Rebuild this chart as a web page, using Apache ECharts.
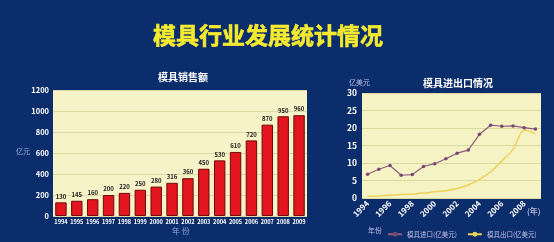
<!DOCTYPE html>
<html><head><meta charset="utf-8">
<script src="https://cdn.jsdelivr.net/npm/echarts@6/dist/echarts.min.js"></script>
<style>html,body{margin:0;padding:0;background:#0c2d6b;}#c{width:554px;height:242px;}</style>
</head><body><div id="c"></div>
<script>
var salesYears = ['1994','1995','1996','1997','1998','1999','2000','2001','2002','2003','2004','2005','2006','2007','2008','2009'];
var salesValues = [130,145,160,200,220,250,280,316,360,450,530,610,720,870,950,960];
var tradeYears = ['1994','1995','1996','1997','1998','1999','2000','2001','2002','2003','2004','2005','2006','2007','2008','2009'];
var importValues = [6.8,8.2,9.3,6.5,6.7,9.0,9.8,11.2,12.8,13.7,18.2,20.8,20.5,20.6,20.1,19.7];
var exportValues = [0.5,0.6,0.8,1.0,1.1,1.4,1.8,2.1,2.7,3.7,5.3,7.5,10.6,13.9,19.4,18.4];
var salesTicks = [0,200,400,600,800,1000,1200];
var tradeTicks = [0,5,10,15,20,25,30];

var chart = echarts.init(document.getElementById('c'));
var font = '"Noto Sans CJK SC", "DejaVu Sans", sans-serif';
chart.setOption({
  backgroundColor: '#0c2d6b',
  animation: false,
  textStyle: {fontFamily: font},
  title: [
    {text: '模具行业发展统计情况', left: 263, top: 19, textAlign: 'center',
     textStyle: {color: '#f4ea30', fontSize: 23, fontWeight: 'bold', fontFamily: font,
                 textBorderColor: '#f4ea30', textBorderWidth: 0.6}},
    {text: '模具销售额', left: 178, top: 67, textAlign: 'center',
     textStyle: {color: '#ffffff', fontSize: 10, fontWeight: 'bold', fontFamily: font}},
    {text: '模具进出口情况', left: 453, top: 73, textAlign: 'center',
     textStyle: {color: '#ffffff', fontSize: 10, fontWeight: 'bold', fontFamily: font}}
  ],
  legend: {
    data: ['模具进口(亿美元)', '模具出口(亿美元)'],
    left: 382, top: 226, width: 200, itemWidth: 14, itemHeight: 6, itemGap: 10,
    textStyle: {color: '#c3bfe6', fontSize: 6.5, fontFamily: font}
  },
  graphic: [
    {type: 'text', left: 16, top: 148, style: {text: '亿元', fill: '#9fb0dc', font: '7px ' + font}},
    {type: 'text', left: 172, top: 227, style: {text: '年 份', fill: '#8ea3d8', font: '8px ' + font}},
    {type: 'text', left: 349, top: 79, style: {text: '亿美元', fill: '#b7c0e6', font: '7px ' + font}},
    {type: 'text', left: 527, top: 207, style: {text: '(年)', fill: '#dfe3f5', font: '8px ' + font}},
    {type: 'text', left: 368, top: 227, style: {text: '年份', fill: '#c3bfe6', font: '7px ' + font}}
  ],
  grid: [
    {left: 53, top: 90, width: 254, height: 126, show: true, backgroundColor: '#f6f3c8', borderColor: '#0c2d6b', borderWidth: 0},
    {left: 362, top: 93, width: 179, height: 105, show: true, backgroundColor: '#f5f2c4', borderColor: '#0c2d6b', borderWidth: 0}
  ],
  xAxis: [
    {type: 'category', gridIndex: 0, data: salesYears,
     axisLine: {show: false}, axisTick: {show: false},
     axisLabel: {interval: 0, color: '#ffffff', fontSize: 5.6, fontWeight: 'bold', margin: 3}},
    {type: 'category', gridIndex: 1, data: tradeYears, boundaryGap: true,
     axisLine: {show: false}, axisTick: {show: false},
     axisLabel: {interval: 1, rotate: 45, color: '#ffffff', fontSize: 8, fontWeight: 'bold', margin: 4}}
  ],
  yAxis: [
    {type: 'value', gridIndex: 0, min: 0, max: 1200, interval: 200,
     axisLine: {show: false}, axisTick: {show: false},
     splitLine: {lineStyle: {color: '#dcd8a6', width: 1}},
     axisLabel: {color: '#ffffff', fontSize: 7.5, fontWeight: 'bold', margin: 4, formatter: function (v) { return String(v); }}},
    {type: 'value', gridIndex: 1, min: 0, max: 30, interval: 5,
     axisLine: {show: false}, axisTick: {show: false},
     splitLine: {lineStyle: {color: '#dcd8a2', width: 1}},
     axisLabel: {color: '#ffffff', fontSize: 8.5, fontWeight: 'bold', margin: 5}}
  ],
  series: [
    {type: 'bar', xAxisIndex: 0, yAxisIndex: 0, data: salesValues, barWidth: '72%',
     itemStyle: {color: '#e2161c', borderColor: '#6e0a0a', borderWidth: 1},
     label: {show: true, position: 'top', distance: 3, color: '#222222', fontSize: 6, fontWeight: 'bold'}},
    {name: '模具进口(亿美元)', type: 'line', xAxisIndex: 1, yAxisIndex: 1, data: importValues,
     symbol: 'circle', symbolSize: 3.5,
     lineStyle: {color: '#8e5c80', width: 1.2},
     itemStyle: {color: '#7a4670'}},
    {name: '模具出口(亿美元)', type: 'line', xAxisIndex: 1, yAxisIndex: 1, data: exportValues,
     symbol: 'circle', symbolSize: 2, showSymbol: false, smooth: 0.3,
     lineStyle: {color: '#ecd25a', width: 1.5},
     itemStyle: {color: '#ecd25a'}}
  ]
});
</script></body></html>
